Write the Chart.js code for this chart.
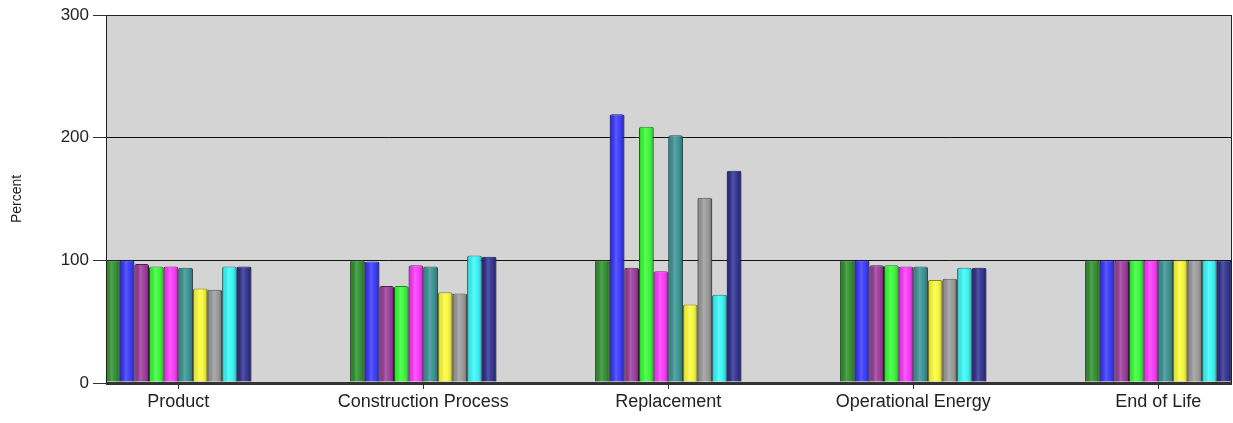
<!DOCTYPE html>
<html>
<head>
<meta charset="utf-8">
<script src="https://cdn.jsdelivr.net/npm/chart.js@4.4.1/dist/chart.umd.min.js"></script>
<style>
  html, body { margin: 0; padding: 0; background: #ffffff; overflow: hidden; }
  #wrap { width: 1233px; height: 423px; position: relative; }
</style>
</head>
<body>
<div id="wrap"><canvas id="chart" width="1233" height="423"></canvas></div>
<script>
// Life-cycle stages along the x axis
const categories = ['Product', 'Construction Process', 'Replacement', 'Operational Energy', 'End of Life'];
const yTickValues = [0, 100, 200, 300];

// Percent of baseline, one array per design option (values follow the stage order)
const optionA = [100, 100, 100, 100, 100];
const optionB = [100, 99, 219, 100, 100];
const optionC = [97, 79, 94, 96, 100];
const optionD = [95, 79, 209, 96, 100];
const optionE = [95, 96, 91, 95, 100];
const optionF = [94, 95, 202, 95, 100];
const optionG = [77, 74, 64, 84, 100];
const optionH = [76, 73, 151, 85, 100];
const optionI = [95, 104, 72, 94, 100];
const optionJ = [95, 103, 173, 94, 100];

const seriesNames = ['Option A', 'Option B', 'Option C', 'Option D', 'Option E',
                     'Option F', 'Option G', 'Option H', 'Option I', 'Option J'];
const seriesValues = [optionA, optionB, optionC, optionD, optionE,
                      optionF, optionG, optionH, optionI, optionJ];
const fillColors = ['#2f8f2f', '#3838fa', '#9a3a9a', '#38fa38', '#fa38fa',
                    '#389294', '#fafa38', '#9a9a9a', '#38f7f7', '#30308f'];
const edgeColors = ['#1a4f1a', '#1a1a80', '#521d52', '#1d861d', '#861d86',
                    '#1d4f50', '#86861d', '#505050', '#1d8080', '#18184f'];

const datasets = seriesValues.map((vals, s) => ({
  label: seriesNames[s],
  data: vals.map((v, i) => ({ x: i, y: v })),
  backgroundColor: fillColors[s],
  borderColor: edgeColors[s],
  borderWidth: 1,
  borderSkipped: 'bottom',
  borderRadius: { topLeft: 2, topRight: 2, bottomLeft: 0, bottomRight: 0 },
  categoryPercentage: 0.597,
  barPercentage: 1.0
}));

// Plot background, cylinder-style shading on the bars, and the frame
const plotFrame = {
  id: 'plotFrame',
  beforeDraw(chart) {
    const { ctx, chartArea: a } = chart;
    ctx.save();
    ctx.fillStyle = '#d4d4d4';
    ctx.fillRect(a.left, a.top, a.right - a.left, a.bottom - a.top);
    ctx.restore();
  },
  afterDatasetsDraw(chart) {
    const { ctx, chartArea: a } = chart;
    ctx.save();
    ctx.beginPath();
    ctx.rect(a.left, a.top, a.right - a.left, a.bottom - a.top);
    ctx.clip();
    chart.data.datasets.forEach((ds, i) => {
      const meta = chart.getDatasetMeta(i);
      meta.data.forEach(bar => {
        const p = bar.getProps(['x', 'y', 'base', 'width'], true);
        const l = p.x - p.width / 2;
        const r = p.x + p.width / 2;
        const g = ctx.createLinearGradient(l, 0, r, 0);
        g.addColorStop(0.0, 'rgba(0,0,0,0.30)');
        g.addColorStop(0.15, 'rgba(0,0,0,0.06)');
        g.addColorStop(0.42, 'rgba(255,255,255,0.18)');
        g.addColorStop(0.62, 'rgba(255,255,255,0.05)');
        g.addColorStop(0.85, 'rgba(0,0,0,0.10)');
        g.addColorStop(1.0, 'rgba(0,0,0,0.35)');
        ctx.fillStyle = g;
        ctx.fillRect(l, p.y + 1, p.width, p.base - p.y - 1);
      });
    });
    ctx.restore();
  },
  afterDraw(chart) {
    const { ctx, chartArea: a } = chart;
    ctx.save();
    ctx.strokeStyle = '#222';
    ctx.lineWidth = 1;
    ctx.beginPath();
    ctx.moveTo(Math.round(a.left) + 0.5, a.bottom);
    ctx.lineTo(Math.round(a.left) + 0.5, Math.round(a.top) + 0.5);
    ctx.lineTo(Math.round(a.right) - 0.5, Math.round(a.top) + 0.5);
    ctx.lineTo(Math.round(a.right) - 0.5, a.bottom);
    ctx.stroke();
    ctx.restore();
  }
};

new Chart(document.getElementById('chart'), {
  type: 'bar',
  data: { datasets },
  plugins: [plotFrame],
  options: {
    responsive: false,
    animation: false,
    devicePixelRatio: 1,
    layout: { padding: { top: 15, right: 1, left: 0, bottom: 0 } },
    plugins: {
      legend: { display: false },
      tooltip: { enabled: false }
    },
    scales: {
      x: {
        type: 'linear',
        offset: false,
        min: -0.295,
        max: 4.301,
        afterBuildTicks(scale) {
          scale.ticks = categories.map((c, i) => ({ value: i }));
        },
        afterFit(scale) { scale.height = 40; },
        grid: {
          offset: false,
          drawOnChartArea: false,
          drawTicks: true,
          tickLength: 6,
          tickColor: '#333',
          tickWidth: 1
        },
        border: { display: false },
        ticks: {
          autoSkip: false,
          maxRotation: 0,
          padding: 2,
          color: '#222222',
          font: { family: 'Liberation Sans, Arial, sans-serif', size: 18 },
          callback: (value) => categories[value]
        }
      },
      y: {
        min: 0,
        max: 300,
        afterBuildTicks(scale) {
          scale.ticks = yTickValues.map(v => ({ value: v }));
        },
        afterFit(scale) { scale.width = 106; },
        grid: {
          color: ctx => (ctx.tick && ctx.tick.value === 0) ? '#333333' : '#111111',
          lineWidth: ctx => (ctx.tick && ctx.tick.value === 0) ? 3 : 1,
          drawTicks: true,
          tickLength: 13,
          tickColor: '#333',
          tickWidth: 1
        },
        border: { display: true, color: '#222', width: 1 },
        ticks: {
          padding: 4,
          color: '#222222',
          font: { family: 'Liberation Sans, Arial, sans-serif', size: 17 }
        },
        title: {
          display: true,
          text: 'Percent',
          color: '#222222',
          padding: { top: 9, bottom: 0 },
          font: { family: 'Liberation Sans, Arial, sans-serif', size: 14 }
        }
      }
    }
  }
});
</script>
</body>
</html>
